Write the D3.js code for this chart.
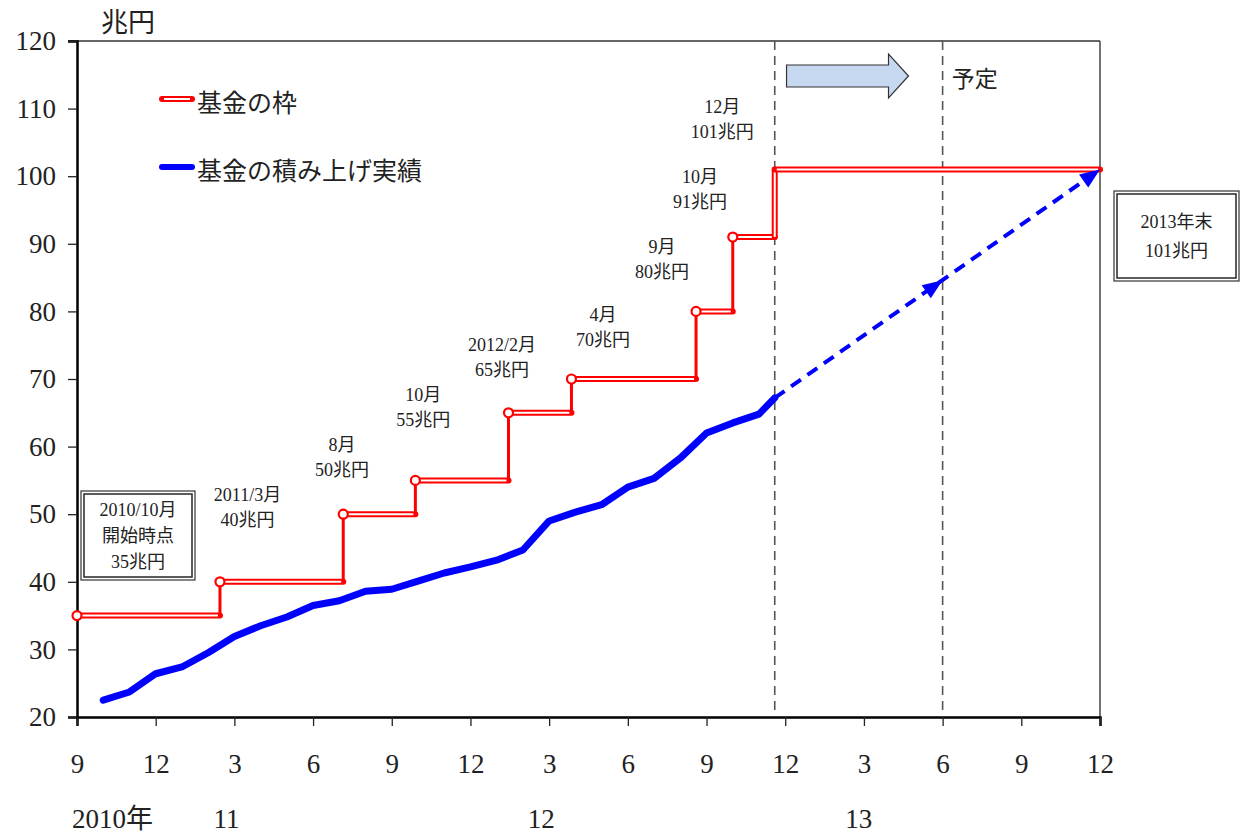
<!DOCTYPE html>
<html>
<head>
<meta charset="utf-8">
<script src="https://cdn.jsdelivr.net/npm/d3@7"></script>
<style>
  body { margin: 0; background: #fff; }
  text { font-family: "Liberation Serif", "Noto Sans CJK JP", serif; fill: #222; }
</style>
</head>
<body>
<div id="main"></div>
<script>
// month offsets counted from 2010/9 (0) to 2013/12 (39)
var stepStart = [0, 5.45, 10.15, 12.9, 16.45, 18.85, 23.6, 25.0, 26.6];
var stepValue = [35, 40, 50, 55, 65, 70, 80, 91, 101];
var stepEnd = 39;

var actualMonth = [1, 2, 3, 4, 5, 6, 7, 8, 9, 10, 11, 12, 13, 14, 15, 16, 17, 18, 19, 20, 21, 22, 23, 24, 25, 26, 26.6];
var actualValue = [22.5, 23.7, 26.4, 27.4, 29.5, 31.9, 33.5, 34.8, 36.5, 37.2, 38.6, 38.9, 40.1, 41.3, 42.2, 43.2, 44.7, 49.0, 50.3, 51.4, 54.0, 55.3, 58.3, 62.0, 63.5, 64.8, 67.2];

var planMonth = [26.6, 33, 39];
var planValue = [67.2, 84.6, 101];

var stepLabels = [
  ["2011/3月", "40兆円"], ["8月", "50兆円"], ["10月", "55兆円"], ["2012/2月", "65兆円"],
  ["4月", "70兆円"], ["9月", "80兆円"], ["10月", "91兆円"], ["12月", "101兆円"]
];
var labelMonth = [6.5, 10.1, 13.2, 16.2, 20.05, 22.3, 23.75, 24.6];
var labelValue = [51.95, 59.35, 66.75, 74.1, 78.6, 88.6, 99.0, 109.3];

var yTicks = [20, 30, 40, 50, 60, 70, 80, 90, 100, 110, 120];
var xTickMonth = [0, 3, 6, 9, 12, 15, 18, 21, 24, 27, 30, 33, 36, 39];
var xTickLabel = ["9", "12", "3", "6", "9", "12", "3", "6", "9", "12", "3", "6", "9", "12"];
var yearLabel = ["2010年", "11", "12", "13"];
var yearMonth = [1.35, 5.7, 17.7, 29.8];
var dividerMonth = [26.6, 33];

var width = 1248, height = 835;
var svg = d3.select("#main").append("svg").attr("width", width).attr("height", height);

var x = d3.scaleLinear().domain([0, 39]).range([77, 1100]);
var y = d3.scaleLinear().domain([20, 120]).range([717, 41]);

// frame (top + right)
svg.append("line").attr("x1", 68).attr("x2", 1100).attr("y1", y(120)).attr("y2", y(120))
  .attr("stroke", "#333").attr("stroke-width", 1.5);
svg.append("line").attr("x1", 1100).attr("x2", 1100).attr("y1", y(120)).attr("y2", y(20))
  .attr("stroke", "#444").attr("stroke-width", 1.5);

// axes
var yAxis = d3.axisLeft(y).tickValues(yTicks).tickSize(9).tickPadding(12);
var gy = svg.append("g").attr("transform", "translate(77,0)").call(yAxis);
gy.select(".domain").attr("stroke", "#000").attr("stroke-width", 2.5);
gy.selectAll(".tick line").attr("stroke", "#222").attr("stroke-width", 1.3);
gy.selectAll(".tick text").attr("font-size", 27).attr("fill", "#222")
  .attr("font-family", "Liberation Serif");

var xAxis = d3.axisBottom(x).tickValues(xTickMonth).tickSize(9).tickPadding(28)
  .tickFormat(function(d, i) { return xTickLabel[i]; });
var gx = svg.append("g").attr("transform", "translate(0,717)").call(xAxis);
gx.select(".domain").attr("stroke", "#000").attr("stroke-width", 2.5);
gx.selectAll(".tick line").attr("stroke", "#222").attr("stroke-width", 1.3);
gx.selectAll(".tick text").attr("font-size", 27).attr("fill", "#222")
  .attr("font-family", "Liberation Serif");

svg.selectAll(".year").data(yearLabel).enter().append("text")
  .attr("class", "year")
  .attr("x", function(d, i) { return x(yearMonth[i]); })
  .attr("y", 828)
  .attr("text-anchor", "middle")
  .attr("font-size", 27)
  .text(function(d) { return d; });

svg.append("text").attr("x", 128).attr("y", 32).attr("text-anchor", "middle")
  .attr("font-size", 27).text("兆円");

// divider lines
svg.selectAll(".divider").data(dividerMonth).enter().append("line")
  .attr("x1", function(d) { return x(d); }).attr("x2", function(d) { return x(d); })
  .attr("y1", y(120)).attr("y2", y(20) - 2)
  .attr("stroke", "#555").attr("stroke-width", 1.6).attr("stroke-dasharray", "9,6");

// block arrow + 予定
var ax0 = x(27.05), ax1 = x(31.7), ay = 76;
svg.append("path")
  .attr("d", "M" + ax0 + "," + (ay - 11) + "H" + (ax1 - 20) + "V" + (ay - 22) + "L" + ax1 + "," + ay +
    "L" + (ax1 - 20) + "," + (ay + 22) + "V" + (ay + 11) + "H" + ax0 + "Z")
  .attr("fill", "#c6d9f1").attr("stroke", "#333").attr("stroke-width", 1.2);
svg.append("text").attr("x", x(33.35)).attr("y", 87).attr("font-size", 23).text("予定");

// red steps
var redG = svg.append("g");
stepValue.forEach(function(v, i) {
  var xs = x(stepStart[i]);
  var xe = x(i + 1 < stepStart.length ? stepStart[i + 1] : stepEnd);
  if (i > 0) {
    redG.append("line").attr("x1", xs).attr("x2", xs)
      .attr("y1", y(stepValue[i - 1])).attr("y2", y(v))
      .attr("stroke", "red").attr("stroke-width", i === stepValue.length - 1 ? 6 : 3)
      .attr("stroke-linecap", "round");
    if (i === stepValue.length - 1) {
      redG.append("line").attr("x1", xs).attr("x2", xs)
        .attr("y1", y(stepValue[i - 1])).attr("y2", y(v) + 1)
        .attr("stroke", "#fff").attr("stroke-width", 2);
    }
  }
  redG.append("line").attr("x1", xs).attr("x2", xe).attr("y1", y(v)).attr("y2", y(v))
    .attr("stroke", "red").attr("stroke-width", 6).attr("stroke-linecap", "round");
  redG.append("line").attr("x1", xs + 2).attr("x2", xe - 2).attr("y1", y(v)).attr("y2", y(v))
    .attr("stroke", "#fff").attr("stroke-width", 2);
});
redG.selectAll("circle").data(stepValue.slice(0, stepValue.length - 1)).enter().append("circle")
  .attr("cx", function(d, i) { return x(stepStart[i]); })
  .attr("cy", function(d) { return y(d); })
  .attr("r", 4.5).attr("fill", "#fff").attr("stroke", "red").attr("stroke-width", 2.2);

// blue actual line
var line = d3.line().x(function(d) { return x(d[0]); }).y(function(d) { return y(d[1]); });
svg.append("path").datum(d3.zip(actualMonth, actualValue)).attr("d", line)
  .attr("fill", "none").attr("stroke", "#0000ff").attr("stroke-width", 7)
  .attr("stroke-linejoin", "round").attr("stroke-linecap", "round");

// blue planned dashed line with arrowheads
svg.append("path").datum([[planMonth[0], planValue[0]], [planMonth[2], planValue[2]]]).attr("d", line)
  .attr("fill", "none").attr("stroke", "#0000ff").attr("stroke-width", 4)
  .attr("stroke-dasharray", "12,8");
function arrowHead(m, v, fromM, fromV) {
  var px = x(m), py = y(v);
  var ang = Math.atan2(py - y(fromV), px - x(fromM));
  var L = 20, W = 8;
  var bx = px - L * Math.cos(ang), by = py - L * Math.sin(ang);
  var p = [[px, py],
    [bx + W * Math.sin(ang), by - W * Math.cos(ang)],
    [bx - W * Math.sin(ang), by + W * Math.cos(ang)]];
  svg.append("path").attr("d", "M" + p.map(function(q) { return q.join(","); }).join("L") + "Z")
    .attr("fill", "#0000ff");
}
arrowHead(planMonth[1], planValue[1], planMonth[0], planValue[0]);
arrowHead(planMonth[2], planValue[2], planMonth[0], planValue[0]);

// step labels
var lab = svg.selectAll(".slab").data(stepLabels).enter().append("text")
  .attr("class", "slab").attr("text-anchor", "middle").attr("font-size", 18);
lab.append("tspan").attr("x", function(d, i) { return x(labelMonth[i]); })
  .attr("y", function(d, i) { return y(labelValue[i]); })
  .text(function(d) { return d[0]; });
lab.append("tspan").attr("x", function(d, i) { return x(labelMonth[i]); })
  .attr("dy", 25).text(function(d) { return d[1]; });

// boxed notes
function noteBox(bx, by, bw, bh, lines, lh) {
  svg.append("rect").attr("x", bx).attr("y", by).attr("width", bw).attr("height", bh)
    .attr("fill", "#fff").attr("stroke", "#333").attr("stroke-width", 1.2);
  svg.append("rect").attr("x", bx + 3).attr("y", by + 3).attr("width", bw - 6).attr("height", bh - 6)
    .attr("fill", "none").attr("stroke", "#333").attr("stroke-width", 1.6);
  var t = svg.append("text").attr("text-anchor", "middle").attr("font-size", 18);
  lines.forEach(function(s, i) {
    t.append("tspan").attr("x", bx + bw / 2).attr("y", by + bh / 2 + (i - (lines.length - 1) / 2) * lh + 6).text(s);
  });
}
noteBox(81, 491, 114, 89, ["2010/10月", "開始時点", "35兆円"], 26);
noteBox(1114, 191, 125, 90, ["2013年末", "101兆円"], 29);

// legend
svg.append("line").attr("x1", 162).attr("x2", 192).attr("y1", 99).attr("y2", 99)
  .attr("stroke", "red").attr("stroke-width", 6).attr("stroke-linecap", "round");
svg.append("line").attr("x1", 164).attr("x2", 190).attr("y1", 99).attr("y2", 99)
  .attr("stroke", "#fff").attr("stroke-width", 2);
svg.append("text").attr("x", 197).attr("y", 112).attr("font-size", 25).text("基金の枠");
svg.append("line").attr("x1", 162).attr("x2", 192).attr("y1", 167).attr("y2", 167)
  .attr("stroke", "#0000ff").attr("stroke-width", 6).attr("stroke-linecap", "round");
svg.append("text").attr("x", 197).attr("y", 180).attr("font-size", 25).text("基金の積み上げ実績");
</script>
</body>
</html>
